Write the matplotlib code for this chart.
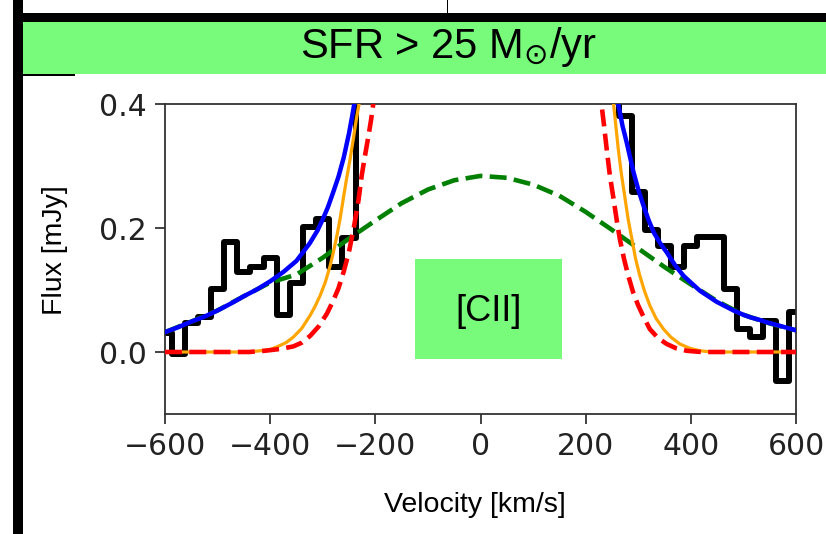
import numpy as np
import matplotlib
matplotlib.use("Agg")
import matplotlib.pyplot as plt
from matplotlib.patches import Rectangle

# binned [CII] spectrum, bin centres every 25 km/s
vel = np.arange(-600, 601, 25)
flux = [0.030, -0.003, 0.047, 0.056, 0.101, 0.177, 0.129, 0.137, 0.151, 0.060,
        0.111, 0.202, 0.214, 0.137, 0.184,
        # central bins run off the top of the panel
        0.55, 0.85, 1.20, 1.50, 1.80, 2.00, 2.20, 2.30, 2.35, 2.40,
        2.35, 2.30, 2.20, 2.00, 1.80, 1.50, 1.20, 0.90, 0.65, 0.45,
        0.381, 0.258, 0.196, 0.171, 0.137, 0.171, 0.185, 0.185, 0.102, 0.037,
        0.024, 0.050, -0.046, 0.064]

# broad component (green dashed), hidden under the blue curve in the wings
broad_v = [-600, -550, -500, -450, -400, -350, -300, -250, -200, -150, -100, -50, 0,
           50, 100, 150, 200, 250, 300, 350, 400, 450, 500, 550, 600]
broad_f = [0.032, 0.049, 0.067, 0.090, 0.112, 0.125, 0.152, 0.183, 0.212, 0.240, 0.262, 0.277, 0.284,
           0.281, 0.270, 0.252, 0.226, 0.197, 0.167, 0.137, 0.109, 0.082, 0.060, 0.046, 0.035]

# blue model wings (nan = off the top of the panel)
blue_v = [-600, -575, -550, -525, -500, -475, -450, -425, -400, -375, -350, -325, -310, -300,
          -290, -280, -270, -260, -250, -245, -240, -235, 0,
          255, 262, 270, 278, 285, 291, 300, 310, 320, 330, 342, 354, 370, 386, 400, 417,
          433, 449, 465, 481, 500, 513, 530, 544, 570, 600]
blue_f = [0.032, 0.040, 0.049, 0.057, 0.067, 0.078, 0.090, 0.101, 0.114, 0.129, 0.147, 0.175, 0.196, 0.214,
          0.234, 0.258, 0.283, 0.314, 0.353, 0.376, 0.400, 0.430, np.nan,
          0.450, 0.400, 0.365, 0.338, 0.312, 0.290, 0.262, 0.236, 0.212, 0.192, 0.175, 0.161, 0.140, 0.123, 0.112, 0.099,
          0.090, 0.081, 0.074, 0.067, 0.060, 0.056, 0.052, 0.048, 0.042, 0.035]

# orange model
orange_v = [-600, -440, -419, -400, -388, -370, -356, -340, -324, -315, -305, -295, -286, -280,
            -273, -267, -261, -255, -248, -242, -236, -231, -227, 0,
            248, 253, 258, 262, 268, 275, 281, 288, 295, 303, 312, 322, 334, 348, 362, 379,
            398, 417, 440, 600]
orange_f = [0.0, 0.0, 0.002, 0.004, 0.008, 0.015, 0.024, 0.038, 0.059, 0.073, 0.091, 0.113, 0.139, 0.160,
            0.188, 0.215, 0.247, 0.278, 0.311, 0.343, 0.376, 0.400, 0.430, np.nan,
            0.430, 0.400, 0.360, 0.327, 0.287, 0.247, 0.213, 0.182, 0.150, 0.123, 0.098, 0.075, 0.054, 0.037, 0.024, 0.013,
            0.006, 0.002, 0.0, 0.0]

# red dashed model
red_v = [-600, -440, -410, -380, -356, -340, -324, -308, -292, -280, -270, -260, -250, -240,
         -232, -226, -220, -213, -208, -204, -200, 0,
         226, 230, 235, 240, 246, 253, 259, 265, 273, 281, 290, 300, 311, 322, 337, 354,
         372, 392, 420, 600]
red_f = [0.0, 0.0, 0.002, 0.005, 0.009, 0.015, 0.026, 0.041, 0.062, 0.083, 0.103, 0.130, 0.162, 0.205,
         0.245, 0.284, 0.315, 0.349, 0.375, 0.400, 0.430, np.nan,
         0.430, 0.400, 0.365, 0.327, 0.285, 0.247, 0.213, 0.182, 0.150, 0.123, 0.097, 0.075, 0.055, 0.037, 0.023, 0.013,
         0.006, 0.002, 0.0, 0.0]

W, H = 826, 534
green = '#78fa7b'

fig = plt.figure(figsize=(W / 100, H / 100), dpi=100)


def px_box(x0, y0, x1, y1, **kw):
    # rectangle given in image pixels (origin top-left)
    r = Rectangle((x0 / W, 1 - y1 / H), (x1 - x0) / W, (y1 - y0) / H,
                  transform=fig.transFigure, lw=0, **kw)
    fig.add_artist(r)


# frame pieces and banner
px_box(13, 0, 23, 534, color='black')
px_box(23, 13, 826, 22, color='black')
px_box(23, 22, 826, 73.5, color=green)
px_box(23, 73.5, 75, 76, color='black')
px_box(446.5, 0, 447.5, 13, color='black')

fig.text(448 / W, 1 - 47 / H, r'SFR > 25 M$_{\odot}$/yr', ha='center', va='center',
         fontsize=30, family='Liberation Sans')

ax = fig.add_axes([165 / W, (H - 414) / H, 631 / W, 310 / H])

ax.step(vel, flux, where='mid', color='black', lw=4.3, zorder=1)
ax.plot(broad_v, broad_f, '--', color='green', lw=3.3, zorder=2)
ax.plot(blue_v, blue_f, color='blue', lw=3.2, zorder=3)
ax.plot(orange_v, orange_f, color='orange', lw=2.3, zorder=4)
ax.plot(red_v, red_f, '--', color='red', lw=3.3, zorder=5)

ax.add_patch(Rectangle((0.396, 0.177), 0.233, 0.323, transform=ax.transAxes,
                       color=green, lw=0, zorder=6))
ax.text(0.513, 0.33, '[CII]', transform=ax.transAxes, ha='center', va='center',
        fontsize=26, family='Liberation Sans', zorder=7)

ax.set_xlim(-600, 600)
ax.set_ylim(-0.1, 0.4)
ax.set_xticks(np.arange(-600, 601, 200))
ax.set_yticks([0.0, 0.2, 0.4])
ax.tick_params(labelsize=21.5, length=7, width=1.2, pad=6, colors='#222222')
for s in ax.spines.values():
    s.set_linewidth(1.3)
    s.set_color('#333333')

fig.text(55 / W, 1 - 250 / H, 'Flux [mJy]', rotation=90, ha='center', va='center',
         fontsize=20.5, family='Liberation Sans')
fig.text(475 / W, 1 - 505 / H, 'Velocity [km/s]', ha='center', va='center',
         fontsize=20.5, family='Liberation Sans')

fig.savefig('out.png', dpi=100)
